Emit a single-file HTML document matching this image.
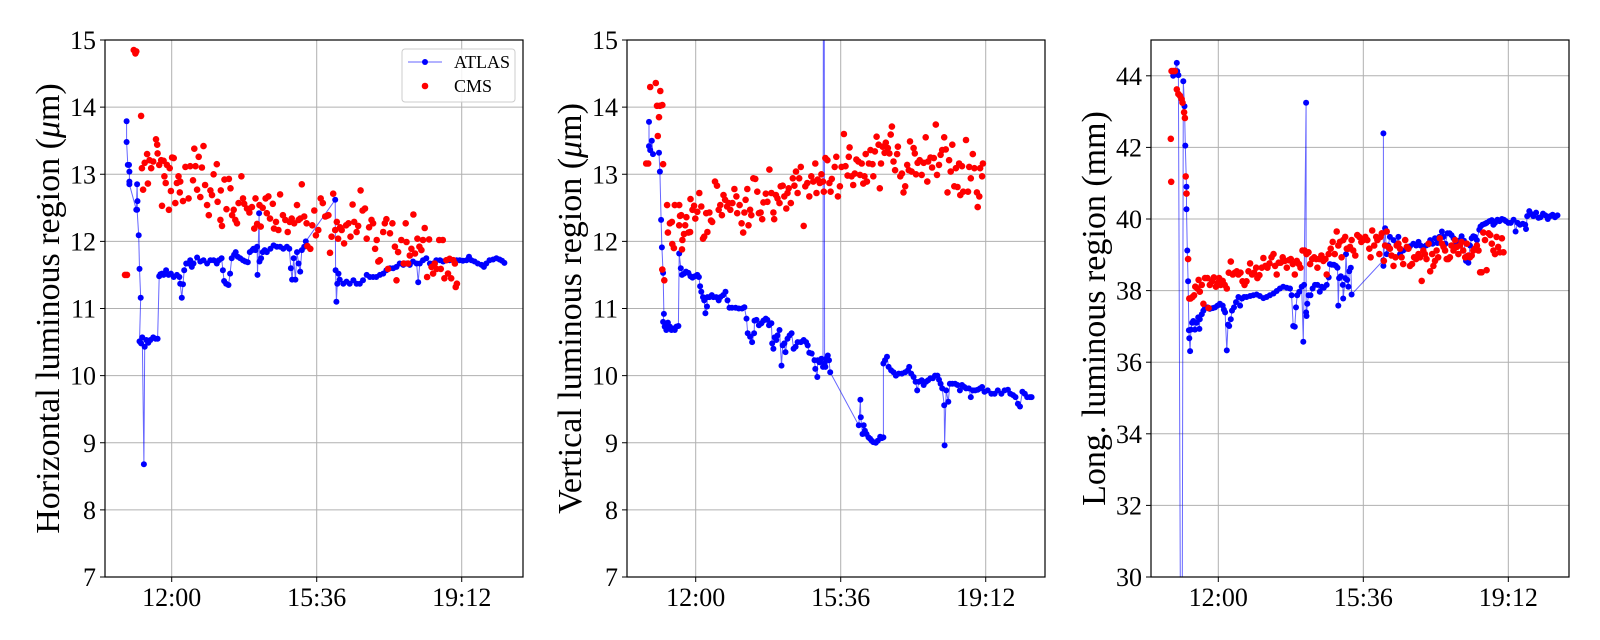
<!DOCTYPE html>
<html><head><meta charset="utf-8"><title>Luminous region sizes</title>
<style>
html,body{margin:0;padding:0;background:#fff;width:1600px;height:640px;overflow:hidden;}
svg{display:block;font-family:"Liberation Serif","DejaVu Serif",serif;}
</style></head>
<body>
<svg id="fig" width="1600" height="640" viewBox="0 0 1600 640" xmlns="http://www.w3.org/2000/svg"></svg>
<script>
// ---------- DATA (time in hours, value in axis units) ----------
const xTickHours = [12, 15.6, 19.2];
const xTickLabels = ["12:00", "15:36", "19:12"];
const yTicksHV = [7, 8, 9, 10, 11, 12, 13, 14, 15];
const yTicksL = [30, 32, 34, 36, 38, 40, 42, 44];

const atlasH = [[10.88,13.79],[10.88,13.48],[10.91,13.14],[10.94,13.14],[10.95,13.04],[10.95,12.89],[10.95,12.85],[11.12,12.47],[11.14,12.85],[11.15,12.60],[11.14,12.47],[11.18,12.09],[11.20,11.59],[11.23,11.16],[11.20,10.51],[11.24,10.48],[11.27,10.57],[11.31,8.68],[11.33,10.43],[11.37,10.53],[11.42,10.49],[11.47,10.53],[11.54,10.57],[11.60,10.55],[11.65,10.55],[11.69,11.48],[11.72,11.51],[11.76,11.52],[11.80,11.50],[11.86,11.57],[11.92,11.50],[11.98,11.52],[12.05,11.47],[12.13,11.50],[12.19,11.47],[12.21,11.37],[12.25,11.16],[12.28,11.36],[12.31,11.57],[12.36,11.67],[12.42,11.67],[12.46,11.72],[12.50,11.62],[12.54,11.67],[12.63,11.76],[12.71,11.70],[12.79,11.72],[12.88,11.67],[12.96,11.72],[13.04,11.72],[13.12,11.67],[13.17,11.72],[13.24,11.75],[13.27,11.57],[13.30,11.41],[13.35,11.37],[13.41,11.35],[13.45,11.52],[13.49,11.75],[13.55,11.80],[13.59,11.84],[13.64,11.77],[13.70,11.75],[13.77,11.72],[13.83,11.70],[13.89,11.69],[13.94,11.84],[14.00,11.87],[14.03,11.89],[14.08,11.87],[14.12,11.92],[14.13,11.50],[14.17,12.42],[14.18,11.70],[14.22,11.75],[14.26,11.84],[14.31,11.87],[14.36,11.84],[14.45,11.89],[14.53,11.94],[14.61,11.92],[14.69,11.92],[14.77,11.89],[14.86,11.92],[14.92,11.89],[14.96,11.60],[14.99,11.43],[15.03,11.75],[15.07,11.43],[15.11,11.84],[15.15,11.67],[15.19,11.55],[15.23,11.87],[15.29,11.92],[15.33,12.00],[16.06,12.62],[16.07,11.57],[16.09,11.10],[16.11,11.37],[16.14,11.52],[16.17,11.43],[16.26,11.37],[16.34,11.40],[16.42,11.37],[16.51,11.42],[16.59,11.37],[16.67,11.37],[16.75,11.42],[16.84,11.50],[16.92,11.47],[17.00,11.47],[17.08,11.47],[17.17,11.50],[17.25,11.52],[17.33,11.57],[17.42,11.60],[17.50,11.60],[17.58,11.62],[17.66,11.67],[17.75,11.65],[17.83,11.67],[17.91,11.65],[17.99,11.70],[18.08,11.67],[18.12,11.39],[18.16,11.67],[18.24,11.72],[18.32,11.75],[18.41,11.67],[18.49,11.67],[18.57,11.72],[18.66,11.72],[18.74,11.70],[18.82,11.72],[18.90,11.72],[18.99,11.72],[19.07,11.72],[19.15,11.72],[19.23,11.71],[19.32,11.72],[19.38,11.77],[19.44,11.72],[19.52,11.70],[19.60,11.67],[19.69,11.65],[19.75,11.62],[19.81,11.67],[19.89,11.72],[19.98,11.73],[20.06,11.75],[20.14,11.73],[20.20,11.71],[20.26,11.68]];

const cmsH = [[10.84,11.50],[10.89,11.50],[11.06,14.85],[11.10,14.80],[11.12,14.83],[11.24,13.87],[11.29,12.77],[11.26,13.09],[11.33,13.17],[11.39,13.30],[11.41,12.86],[11.45,13.21],[11.49,13.09],[11.54,13.19],[11.61,13.52],[11.64,13.44],[11.65,13.31],[11.69,13.14],[11.74,13.21],[11.76,12.53],[11.80,13.20],[11.82,12.97],[11.85,12.87],[11.88,13.14],[11.93,12.47],[11.95,13.09],[11.98,12.75],[12.01,13.25],[12.05,13.24],[12.09,12.57],[12.13,12.87],[12.17,12.97],[12.20,12.73],[12.21,12.89],[12.28,12.60],[12.34,13.11],[12.42,12.64],[12.46,13.12],[12.53,12.91],[12.56,13.38],[12.59,13.12],[12.63,12.77],[12.67,13.26],[12.71,12.66],[12.75,13.10],[12.79,13.42],[12.83,12.84],[12.88,12.54],[12.92,12.39],[12.96,12.76],[13.00,12.69],[13.04,13.00],[13.12,13.15],[13.14,12.59],[13.21,12.32],[13.22,12.76],[13.25,12.23],[13.31,12.92],[13.36,12.48],[13.42,12.93],[13.46,12.79],[13.50,12.39],[13.54,12.47],[13.58,12.32],[13.62,12.27],[13.66,12.57],[13.73,12.97],[13.77,12.64],[13.80,12.56],[13.87,12.49],[13.93,12.43],[13.99,12.51],[14.05,12.19],[14.08,12.64],[14.12,12.26],[14.18,12.54],[14.21,12.22],[14.26,12.50],[14.33,12.64],[14.36,12.42],[14.40,12.67],[14.44,12.34],[14.51,12.56],[14.54,12.19],[14.59,12.29],[14.65,12.17],[14.69,12.70],[14.76,12.39],[14.82,12.32],[14.88,12.14],[14.93,12.29],[14.98,12.34],[15.04,12.27],[15.11,12.54],[15.15,12.32],[15.19,12.34],[15.23,12.85],[15.29,12.37],[15.35,12.27],[15.37,11.93],[15.44,11.89],[15.49,12.24],[15.54,12.46],[15.58,12.09],[15.64,12.17],[15.70,12.64],[15.75,12.57],[15.81,12.37],[15.85,12.38],[15.89,12.39],[15.93,11.83],[15.97,12.07],[16.01,12.71],[16.06,12.17],[16.10,12.29],[16.13,12.04],[16.18,12.21],[16.22,12.17],[16.28,11.97],[16.33,12.24],[16.39,12.27],[16.44,12.07],[16.49,12.55],[16.53,12.29],[16.59,12.14],[16.63,12.23],[16.69,12.76],[16.74,12.46],[16.80,12.49],[16.84,12.04],[16.90,12.21],[16.96,12.32],[17.00,12.27],[17.05,11.89],[17.09,12.02],[17.13,11.70],[17.17,11.72],[17.25,12.14],[17.29,12.27],[17.33,12.33],[17.37,11.59],[17.42,12.12],[17.48,12.27],[17.54,11.92],[17.58,11.42],[17.62,11.84],[17.70,12.02],[17.76,11.67],[17.81,12.27],[17.83,11.99],[17.87,11.67],[17.91,11.79],[17.95,11.89],[18.00,12.40],[18.04,11.82],[18.10,12.04],[18.15,11.92],[18.20,11.87],[18.24,12.02],[18.28,12.20],[18.34,11.47],[18.39,12.03],[18.45,11.62],[18.49,11.52],[18.53,11.67],[18.58,11.59],[18.64,12.02],[18.68,11.59],[18.73,12.02],[18.77,11.45],[18.82,11.72],[18.86,11.52],[18.90,11.74],[18.94,11.45],[18.99,11.72],[19.03,11.67],[19.05,11.32],[19.08,11.37]];

const atlasV = [[10.84,13.78],[10.84,13.42],[10.87,13.36],[10.91,13.50],[10.94,13.30],[11.09,13.32],[11.11,13.04],[11.14,12.32],[11.16,11.91],[11.19,11.53],[11.21,10.92],[11.19,10.80],[11.23,10.73],[11.27,10.68],[11.31,10.79],[11.36,10.73],[11.40,10.68],[11.44,10.70],[11.48,10.68],[11.52,10.73],[11.57,10.74],[11.59,11.82],[11.63,11.60],[11.66,11.50],[11.71,11.52],[11.76,11.55],[11.82,11.53],[11.87,11.48],[11.92,11.46],[11.98,11.48],[12.04,11.50],[12.08,11.47],[12.11,11.33],[12.14,11.25],[12.18,11.17],[12.21,11.12],[12.24,10.93],[12.28,11.03],[12.29,11.17],[12.34,11.17],[12.40,11.20],[12.44,11.17],[12.51,11.17],[12.57,11.12],[12.61,11.17],[12.68,11.20],[12.74,11.25],[12.79,11.12],[12.84,11.01],[12.90,11.01],[12.99,11.01],[13.07,11.00],[13.15,11.00],[13.21,11.02],[13.26,10.85],[13.29,10.63],[13.35,10.58],[13.40,10.50],[13.45,10.63],[13.46,10.82],[13.51,10.83],[13.57,10.75],[13.63,10.78],[13.68,10.82],[13.74,10.85],[13.78,10.83],[13.82,10.75],[13.88,10.78],[13.90,10.48],[13.93,10.40],[13.96,10.57],[14.00,10.53],[14.03,10.60],[14.08,10.68],[14.13,10.15],[14.16,10.45],[14.20,10.48],[14.23,10.35],[14.28,10.55],[14.33,10.60],[14.38,10.63],[14.43,10.40],[14.48,10.43],[14.53,10.50],[14.61,10.50],[14.68,10.53],[14.74,10.50],[14.78,10.45],[14.82,10.34],[14.88,10.33],[14.95,10.23],[14.97,10.10],[15.02,9.98],[15.03,10.23],[15.07,10.20],[15.12,10.25],[15.16,10.13],[15.18,22.0],[15.20,10.18],[15.22,10.13],[15.24,10.25],[15.28,10.30],[15.31,10.23],[15.34,10.05],[16.05,9.26],[16.09,9.64],[16.10,9.38],[16.14,9.13],[16.17,9.26],[16.20,9.18],[16.24,9.13],[16.29,9.08],[16.33,9.06],[16.37,9.03],[16.41,9.01],[16.47,9.00],[16.52,9.03],[16.58,9.09],[16.62,9.07],[16.66,9.08],[16.66,10.18],[16.70,10.23],[16.75,10.28],[16.79,10.13],[16.85,10.08],[16.91,10.05],[16.97,10.00],[17.04,10.03],[17.12,10.03],[17.20,10.05],[17.27,10.08],[17.30,10.13],[17.35,10.03],[17.41,9.98],[17.46,9.91],[17.50,9.78],[17.54,9.91],[17.61,9.93],[17.66,9.86],[17.72,9.91],[17.77,9.93],[17.83,9.96],[17.89,9.96],[17.94,10.00],[18.00,10.00],[18.04,9.94],[18.08,9.88],[18.12,9.81],[18.17,9.56],[18.18,8.96],[18.22,9.78],[18.27,9.61],[18.31,9.88],[18.37,9.88],[18.44,9.88],[18.50,9.86],[18.56,9.78],[18.61,9.86],[18.67,9.83],[18.71,9.81],[18.78,9.81],[18.83,9.68],[18.88,9.78],[18.94,9.78],[19.00,9.79],[19.06,9.81],[19.11,9.83],[19.17,9.76],[19.25,9.78],[19.34,9.73],[19.42,9.73],[19.50,9.78],[19.59,9.73],[19.67,9.78],[19.75,9.79],[19.81,9.73],[19.88,9.71],[19.94,9.68],[20.00,9.58],[20.05,9.54],[20.11,9.76],[20.17,9.73],[20.23,9.68],[20.30,9.68],[20.34,9.68]];

const cmsV = [[10.77,13.16],[10.82,13.16],[10.87,14.30],[11.01,14.36],[11.04,14.02],[11.11,14.02],[11.17,14.03],[11.12,14.24],[11.09,13.85],[11.06,13.57],[11.19,13.15],[11.17,11.58],[11.22,11.42],[11.29,12.54],[11.31,12.13],[11.36,12.27],[11.41,12.29],[11.42,11.96],[11.46,11.90],[11.48,12.54],[11.59,12.54],[11.61,12.38],[11.59,12.24],[11.64,12.39],[11.66,11.88],[11.67,12.02],[11.71,12.11],[11.74,12.24],[11.77,12.36],[11.82,12.13],[11.86,12.14],[11.87,12.63],[11.92,12.47],[11.96,12.53],[11.99,12.34],[12.04,12.44],[12.09,12.72],[12.14,12.52],[12.18,12.04],[12.21,12.07],[12.26,12.42],[12.29,12.14],[12.34,12.43],[12.38,12.31],[12.41,12.29],[12.48,12.89],[12.53,12.83],[12.57,12.47],[12.61,12.54],[12.65,12.39],[12.69,12.69],[12.73,12.62],[12.78,12.52],[12.82,12.57],[12.86,12.47],[12.91,12.57],[12.96,12.78],[13.01,12.67],[13.03,12.42],[13.09,12.54],[13.14,12.27],[13.18,12.13],[13.21,12.43],[13.24,12.62],[13.28,12.78],[13.31,12.24],[13.35,12.47],[13.38,12.39],[13.43,12.94],[13.48,12.93],[13.53,12.74],[13.57,12.42],[13.61,12.43],[13.65,12.33],[13.68,12.58],[13.74,12.71],[13.78,12.59],[13.83,13.07],[13.88,12.72],[13.93,12.43],[13.95,12.33],[13.99,12.69],[14.03,12.64],[14.08,12.57],[14.11,12.82],[14.16,12.83],[14.20,12.67],[14.25,12.49],[14.28,12.72],[14.31,12.79],[14.36,12.57],[14.41,12.94],[14.45,12.83],[14.49,13.04],[14.53,12.72],[14.57,12.94],[14.61,13.11],[14.68,12.23],[14.72,12.82],[14.77,12.87],[14.82,12.67],[14.87,12.97],[14.92,12.89],[14.97,13.16],[15.00,12.72],[15.03,12.92],[15.08,12.87],[15.12,13.00],[15.16,12.89],[15.18,12.74],[15.22,13.24],[15.27,13.21],[15.32,12.87],[15.35,12.74],[15.38,12.93],[15.45,13.11],[15.49,13.26],[15.53,12.67],[15.58,12.82],[15.62,13.11],[15.68,13.60],[15.72,13.12],[15.77,12.98],[15.80,13.26],[15.82,13.40],[15.87,12.97],[15.91,12.84],[15.95,13.01],[15.99,13.22],[16.04,13.19],[16.08,12.99],[16.12,13.16],[16.16,12.86],[16.19,12.97],[16.22,13.30],[16.25,12.89],[16.30,13.16],[16.34,13.36],[16.39,13.15],[16.41,12.97],[16.45,13.34],[16.49,13.56],[16.54,13.44],[16.57,12.79],[16.60,13.16],[16.64,13.41],[16.69,13.32],[16.72,13.47],[16.77,13.39],[16.81,13.31],[16.84,13.59],[16.87,13.71],[16.91,13.19],[16.95,13.06],[17.00,13.30],[17.02,13.41],[17.08,12.97],[17.12,13.01],[17.16,12.73],[17.20,12.82],[17.25,13.14],[17.29,13.06],[17.32,13.49],[17.36,13.04],[17.41,13.39],[17.44,13.31],[17.47,13.00],[17.51,13.17],[17.56,13.21],[17.61,12.99],[17.66,13.17],[17.71,13.55],[17.75,12.89],[17.77,13.19],[17.83,13.25],[17.87,13.10],[17.91,13.24],[17.96,13.74],[17.99,12.99],[18.04,13.14],[18.08,13.29],[18.12,13.36],[18.17,13.55],[18.21,13.37],[18.25,12.73],[18.29,13.21],[18.33,13.04],[18.37,13.44],[18.42,12.82],[18.46,13.09],[18.50,12.81],[18.54,13.16],[18.57,12.69],[18.61,13.12],[18.64,12.74],[18.71,13.51],[18.76,12.74],[18.79,13.11],[18.83,12.94],[18.88,13.30],[18.92,13.09],[18.98,12.73],[19.00,12.51],[19.04,12.67],[19.06,13.09],[19.11,12.97],[19.13,13.16]];

const atlasL = [[10.84,44.13],[10.88,44.00],[10.92,44.13],[10.97,44.36],[10.98,44.13],[11.01,44.02],[11.09,20],[11.13,43.85],[11.16,43.15],[11.18,42.05],[11.21,40.90],[11.21,40.27],[11.23,39.12],[11.25,38.26],[11.27,36.89],[11.28,36.67],[11.30,36.31],[11.32,36.91],[11.35,37.10],[11.38,37.15],[11.42,36.91],[11.46,37.10],[11.50,37.25],[11.53,36.93],[11.54,37.20],[11.59,37.34],[11.63,37.44],[11.67,37.51],[11.73,37.53],[11.79,37.49],[11.86,37.51],[11.92,37.53],[11.98,37.58],[12.04,37.63],[12.11,37.58],[12.14,37.47],[12.17,37.39],[12.21,36.33],[12.24,37.05],[12.27,37.01],[12.31,37.20],[12.34,37.44],[12.39,37.53],[12.44,37.68],[12.50,37.82],[12.54,37.58],[12.59,37.78],[12.64,37.82],[12.70,37.82],[12.79,37.85],[12.87,37.87],[12.95,37.89],[13.03,37.85],[13.12,37.79],[13.20,37.82],[13.28,37.87],[13.37,37.92],[13.45,37.99],[13.53,38.06],[13.61,38.11],[13.70,38.08],[13.78,38.06],[13.82,37.87],[13.86,37.01],[13.90,36.99],[13.93,37.53],[13.96,37.87],[14.01,37.97],[14.07,38.11],[14.11,36.57],[14.13,38.16],[14.18,43.25],[14.18,37.39],[14.19,37.29],[14.21,37.63],[14.24,37.87],[14.29,37.87],[14.34,38.06],[14.40,38.16],[14.46,38.16],[14.52,37.97],[14.57,38.11],[14.62,38.08],[14.69,38.16],[14.74,38.37],[14.77,38.74],[14.82,38.72],[14.87,38.72],[14.92,38.69],[14.96,38.64],[14.98,37.58],[15.00,38.35],[15.04,38.40],[15.09,38.16],[15.10,37.78],[15.15,38.35],[15.17,39.02],[15.20,38.30],[15.23,38.11],[15.25,38.54],[15.29,38.64],[15.31,37.89],[16.10,38.85],[16.10,42.39],[16.10,38.69],[16.14,39.74],[16.18,39.02],[16.22,39.26],[16.26,39.50],[16.35,39.41],[16.43,39.31],[16.47,39.50],[16.51,39.02],[16.59,39.12],[16.68,39.17],[16.76,39.24],[16.84,39.31],[16.91,39.26],[16.97,39.36],[17.02,39.26],[17.09,39.22],[17.16,39.26],[17.22,39.29],[17.26,39.41],[17.32,39.31],[17.38,39.46],[17.44,39.33],[17.49,39.50],[17.55,39.65],[17.59,39.50],[17.64,39.31],[17.69,39.60],[17.74,39.60],[17.79,39.55],[17.84,39.46],[17.90,39.36],[17.96,39.31],[18.00,39.41],[18.04,39.52],[18.10,39.39],[18.15,38.83],[18.21,38.78],[18.25,39.26],[18.29,39.46],[18.33,39.52],[18.37,39.50],[18.42,39.41],[18.48,39.70],[18.51,39.79],[18.56,39.84],[18.62,39.87],[18.66,39.89],[18.73,39.94],[18.79,39.97],[18.83,39.84],[18.87,39.89],[18.93,39.98],[18.98,39.94],[19.04,40.00],[19.09,39.98],[19.14,39.94],[19.20,39.89],[19.26,39.89],[19.33,39.98],[19.38,39.65],[19.43,39.89],[19.49,39.84],[19.56,39.87],[19.62,39.84],[19.64,39.72],[19.67,40.08],[19.72,40.22],[19.78,40.13],[19.82,40.08],[19.89,40.18],[19.95,40.03],[20.00,40.05],[20.06,40.15],[20.12,40.10],[20.18,40.00],[20.24,40.08],[20.30,40.12],[20.36,40.05],[20.42,40.10]];

const cmsL = [[10.82,42.24],[10.83,41.04],[10.84,44.13],[10.88,44.13],[10.92,44.13],[10.97,43.62],[11.01,43.49],[11.05,43.44],[11.09,43.35],[11.11,43.25],[11.15,42.98],[11.17,42.82],[11.19,41.19],[11.21,40.71],[11.25,38.88],[11.28,37.78],[11.31,37.78],[11.36,37.82],[11.40,37.87],[11.43,38.11],[11.48,38.06],[11.51,38.30],[11.54,37.97],[11.59,38.16],[11.63,37.63],[11.67,38.35],[11.73,38.35],[11.76,37.51],[11.79,38.16],[11.84,38.26],[11.89,38.37],[11.94,38.11],[11.98,38.21],[12.02,38.35],[12.06,38.16],[12.11,38.27],[12.16,38.16],[12.21,38.06],[12.26,38.50],[12.31,38.81],[12.36,38.45],[12.41,38.50],[12.46,38.54],[12.50,38.45],[12.55,38.50],[12.60,38.26],[12.65,38.16],[12.70,38.26],[12.75,38.54],[12.79,38.76],[12.84,38.45],[12.89,38.50],[12.94,38.64],[12.97,38.35],[13.02,38.43],[13.08,38.64],[13.12,38.91],[13.17,38.69],[13.22,38.64],[13.27,38.76],[13.32,38.93],[13.37,39.02],[13.41,38.69],[13.45,38.45],[13.50,38.78],[13.55,38.78],[13.60,38.93],[13.65,38.83],[13.70,38.64],[13.75,38.85],[13.80,38.88],[13.85,38.74],[13.90,38.45],[13.95,38.83],[14.00,38.74],[14.04,38.64],[14.09,39.12],[14.14,39.12],[14.19,39.02],[14.24,39.07],[14.28,38.74],[14.33,38.88],[14.38,38.93],[14.43,38.88],[14.46,38.64],[14.51,38.88],[14.56,38.98],[14.61,38.83],[14.66,38.88],[14.69,38.45],[14.74,39.02],[14.79,39.17],[14.84,39.36],[14.89,39.02],[14.94,39.65],[14.98,39.26],[15.02,39.36],[15.06,38.93],[15.10,39.41],[15.15,39.50],[15.19,39.17],[15.23,39.17],[15.27,39.22],[15.31,39.41],[15.35,39.12],[15.40,38.98],[15.45,39.55],[15.50,39.50],[15.55,39.36],[15.60,39.41],[15.65,39.50],[15.70,39.41],[15.75,39.17],[15.78,38.93],[15.82,39.68],[15.87,39.26],[15.92,39.50],[15.95,39.41],[16.00,39.02],[16.03,39.50],[16.06,39.60],[16.11,38.83],[16.14,39.26],[16.18,39.65],[16.22,39.22],[16.26,39.17],[16.30,38.98],[16.35,38.69],[16.40,38.93],[16.43,39.26],[16.47,39.31],[16.51,39.17],[16.55,38.93],[16.59,38.74],[16.64,39.41],[16.68,39.22],[16.72,39.17],[16.76,38.69],[16.81,38.74],[16.86,38.93],[16.91,38.88],[16.97,39.02],[17.01,38.93],[17.05,38.27],[17.09,39.12],[17.13,39.02],[17.17,38.88],[17.22,39.31],[17.26,38.54],[17.31,39.02],[17.34,38.69],[17.38,38.83],[17.42,39.12],[17.46,38.93],[17.50,39.46],[17.55,39.31],[17.59,39.22],[17.63,39.12],[17.67,38.88],[17.71,38.88],[17.75,38.93],[17.79,39.26],[17.84,39.12],[17.88,39.41],[17.92,39.22],[17.96,39.02],[18.00,39.26],[18.04,39.36],[18.08,39.12],[18.13,38.93],[18.17,39.31],[18.21,38.98],[18.25,38.93],[18.29,38.98],[18.33,39.12],[18.37,39.17],[18.42,39.26],[18.46,39.12],[18.50,38.51],[18.54,38.51],[18.58,39.62],[18.62,39.41],[18.66,38.57],[18.71,39.60],[18.75,39.55],[18.79,39.31],[18.83,39.12],[18.87,39.02],[18.91,39.50],[18.95,39.22],[18.99,39.07],[19.04,39.46],[19.08,39.07]];

// ---------- RENDER ----------
const NS = "http://www.w3.org/2000/svg";
const svg = document.getElementById('fig');
function mk(tag, attrs, parent){
  const e = document.createElementNS(NS, tag);
  for (const k in attrs) e.setAttribute(k, attrs[k]);
  (parent||svg).appendChild(e);
  return e;
}
const TOP = 40, BOT = 577, W = 418, PXH = 40.28;
const panels = [
  {id:'horizontal', left:105, x12:171.7, yMin:7, yMax:15, ticks:yTicksHV, atlas:atlasH, cms:cmsH, label:['Horizontal luminous region (','μ','m)'], legend:true},
  {id:'vertical', left:627, x12:695.7, yMin:7, yMax:15, ticks:yTicksHV, atlas:atlasV, cms:cmsV, label:['Vertical luminous region (','μ','m)']},
  {id:'longitudinal', left:1151, x12:1218.3, yMin:30, yMax:45, ticks:yTicksL, atlas:atlasL, cms:cmsL, label:['Long. luminous region (mm)']}
];

panels.forEach((p, pi) => {
  const g = mk('g', {});
  
  
  const xs = t => p.x12 + (t - 12) * PXH;
  const ys = v => BOT - (v - p.yMin) / (p.yMax - p.yMin) * (BOT - TOP);
  const R = p.left + W;

  const cp = mk('clipPath', {id:'clip'+pi}, g);
  mk('rect', {x:p.left, y:TOP, width:W, height:BOT-TOP}, cp);

  xTickHours.forEach((h, i) => {
    const x = xs(h);
    const gl = mk('line', {x1:x, x2:x, y1:TOP, y2:BOT, stroke:'#b0b0b0', 'stroke-width':1}, g);
    
    
    mk('line', {x1:x, x2:x, y1:BOT, y2:BOT+5, stroke:'#000', 'stroke-width':1}, g);
    const tl = mk('text', {x:x, y:BOT+29, 'font-size':26, 'text-anchor':'middle', fill:'#000'}, g);
    tl.textContent = xTickLabels[i];
    
    
  });
  p.ticks.forEach(v => {
    const y = ys(v);
    if (v > p.yMin && v < p.yMax) {
      const gl = mk('line', {x1:p.left, x2:R, y1:y, y2:y, stroke:'#b0b0b0', 'stroke-width':1}, g);
      
      
    }
    mk('line', {x1:p.left-5, x2:p.left, y1:y, y2:y, stroke:'#000', 'stroke-width':1}, g);
    const tl = mk('text', {x:p.left-9, y:y+9, 'font-size':26, 'text-anchor':'end', fill:'#000'}, g);
    tl.textContent = String(v);
    
    
  });

  const dg = mk('g', {'clip-path':'url(#clip'+pi+')'}, g);
  const line = mk('polyline', {points: p.atlas.map(d => xs(d[0]).toFixed(1)+','+ys(d[1]).toFixed(1)).join(' '), fill:'none', stroke:'#0000ff', 'stroke-opacity':0.6, 'stroke-width':1}, dg);
  
  
  p.atlas.forEach(d => {
    const c = mk('circle', {cx:xs(d[0]).toFixed(1), cy:ys(d[1]).toFixed(1), r:3, fill:'#0000ff'}, dg);
    
    
  });
  p.cms.forEach(d => {
    const c = mk('circle', {cx:xs(d[0]).toFixed(1), cy:ys(d[1]).toFixed(1), r:3.3, fill:'#ff0000'}, dg);
    
    
  });

  const fr = mk('rect', {x:p.left, y:TOP, width:W, height:BOT-TOP, fill:'none', stroke:'#000', 'stroke-width':1.2}, g);
  
  

  const cy = (TOP + BOT) / 2, lx = p.left - 46;
  const yl = mk('text', {x:lx, y:cy, 'font-size':34, 'text-anchor':'middle', fill:'#000', transform:'rotate(-90 '+lx+' '+cy+')'}, g);
  
  
  p.label.forEach(s => {
    const ts = mk('tspan', {}, yl);
    if (s === 'μ') ts.setAttribute('font-style', 'italic');
    ts.textContent = s;
  });

  if (p.legend) {
    const lg = mk('g', {}, g);
    
    
    mk('rect', {x:402, y:49, width:113, height:53, rx:3, fill:'#fff', 'fill-opacity':0.85, stroke:'#cccccc', 'stroke-width':1}, lg);
    const e1 = mk('g', {}, lg);
    
    
    mk('line', {x1:408, x2:442, y1:62, y2:62, stroke:'#0000ff', 'stroke-opacity':0.6, 'stroke-width':1}, e1);
    mk('circle', {cx:425, cy:62, r:3, fill:'#0000ff'}, e1);
    const t1 = mk('text', {x:454, y:68, 'font-size':18, fill:'#000'}, e1);
    t1.textContent = 'ATLAS';
    const e2 = mk('g', {}, lg);
    
    
    mk('circle', {cx:425, cy:86, r:3.3, fill:'#ff0000'}, e2);
    const t2 = mk('text', {x:454, y:92, 'font-size':18, fill:'#000'}, e2);
    t2.textContent = 'CMS';
  }
});
</script>
</body></html>
